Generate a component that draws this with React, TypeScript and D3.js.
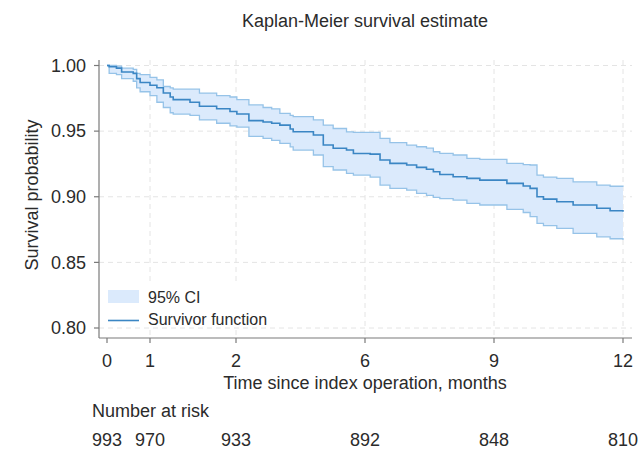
import React from 'react';
import * as d3 from 'd3';

// Kaplan-Meier step estimate (time in months)
const times = [0, 0.05, 0.22, 0.34, 0.61, 0.69, 0.77, 1.0, 1.16, 1.31, 1.47, 1.54, 1.93, 2.15, 2.55, 2.86,
  3.02, 3.3, 3.63, 3.83, 4.02, 4.26, 4.33, 4.8, 5.03, 5.26, 5.57, 5.73, 6.12, 6.35, 6.58, 6.97, 7.2,
  7.43, 7.59, 7.74, 8.05, 8.37, 8.67, 9.3, 9.68, 9.84, 10.0, 10.15, 10.46, 10.84, 11.39, 11.7, 12.0];
const survival = [1.0, 0.999, 0.998, 0.995, 0.994, 0.990, 0.987, 0.985, 0.983, 0.979, 0.976, 0.974, 0.972,
  0.969, 0.967, 0.965, 0.963, 0.958, 0.957, 0.956, 0.9546, 0.9516, 0.9495, 0.947, 0.9394, 0.9369, 0.9356,
  0.933, 0.9325, 0.928, 0.9254, 0.9242, 0.9224, 0.9209, 0.919, 0.917, 0.9152, 0.914, 0.9127, 0.9102,
  0.9082, 0.9064, 0.900, 0.8982, 0.8962, 0.8937, 0.8912, 0.8893, 0.8886];
const upperCI = [1.0, 1.0, 0.9995, 0.998, 0.997, 0.994, 0.993, 0.991, 0.989, 0.984, 0.983, 0.982, 0.982,
  0.979, 0.977, 0.976, 0.974, 0.970, 0.968, 0.967, 0.9636, 0.962, 0.961, 0.9585, 0.9546, 0.952, 0.9495,
  0.949, 0.949, 0.9445, 0.9412, 0.9394, 0.9381, 0.937, 0.9343, 0.933, 0.9318, 0.9293, 0.9285, 0.9255,
  0.9245, 0.9242, 0.9165, 0.915, 0.914, 0.9114, 0.9089, 0.908, 0.9076];
const lowerCI = [1.0, 0.994, 0.993, 0.990, 0.988, 0.983, 0.980, 0.977, 0.972, 0.968, 0.964, 0.963, 0.962,
  0.9585, 0.956, 0.954, 0.953, 0.946, 0.9445, 0.943, 0.9407, 0.938, 0.9356, 0.9318, 0.9229, 0.9204, 0.9178,
  0.9165, 0.915, 0.9089, 0.9064, 0.9051, 0.9026, 0.901, 0.8995, 0.8985, 0.8975, 0.895, 0.8937, 0.8904,
  0.888, 0.8848, 0.8797, 0.878, 0.8759, 0.8721, 0.8695, 0.868, 0.867];

const yTicks = [0.8, 0.85, 0.9, 0.95, 1.0];
// axis positions in months, with the labels Stata printed under them
const xTickValues = [0, 1, 3, 6, 9, 12];
const xTickLabels = ['0', '1', '2', '6', '9', '12'];
const atRisk = [993, 970, 933, 892, 848, 810];

const FONT = '"Liberation Sans", Arial, Helvetica, sans-serif';
const LINE = '#3b86c4';
const BAND = '#dbeafc';
const BAND_EDGE = '#96c3e8';
const GRID = '#e4e4e4';
const AXIS = '#7a7a7a';
const TEXT = '#2b2b2b';

export default function App() {
  const width = 643;
  const height = 452;

  const x = d3.scaleLinear().domain([0, 12]).range([107, 623]);
  const y = d3.scaleLinear().domain([0.8, 1.0]).range([328, 65.5]);

  const axisLeft = 99;
  const axisBottom = 338;
  const plotTop = 60;
  const plotRight = 632;

  const rows = times.map((t, i) => ({ t, s: survival[i], lo: lowerCI[i], hi: upperCI[i] }));

  const band = d3.area<any>()
    .curve(d3.curveStepAfter)
    .x(d => x(d.t))
    .y0(d => y(d.lo))
    .y1(d => y(d.hi));
  const edge = (key: 'lo' | 'hi' | 's') => d3.line<any>()
    .curve(d3.curveStepAfter)
    .x(d => x(d.t))
    .y(d => y(d[key]));

  return (
    <svg width={width} height={height} style={{ position: 'absolute', left: 0, top: 0, background: '#fff' }}
      fontFamily={FONT}>
      <text x={365} y={27} textAnchor="middle" fontSize={18} fill={TEXT}>Kaplan-Meier survival estimate</text>

      {/* grid */}
      {yTicks.map(v => (
        <line key={'gy' + v} x1={axisLeft} x2={plotRight} y1={y(v)} y2={y(v)}
          stroke={GRID} strokeDasharray="5 4" />
      ))}
      {xTickValues.filter(v => v > 0).map(v => (
        <line key={'gx' + v} x1={x(v)} x2={x(v)} y1={plotTop} y2={axisBottom}
          stroke={GRID} strokeDasharray="5 4" />
      ))}

      {/* confidence band and survivor function */}
      <path d={band(rows) || ''} fill={BAND} stroke="none" />
      <path d={edge('hi')(rows) || ''} fill="none" stroke={BAND_EDGE} strokeWidth={1.3} />
      <path d={edge('lo')(rows) || ''} fill="none" stroke={BAND_EDGE} strokeWidth={1.3} />
      <path d={edge('s')(rows) || ''} fill="none" stroke={LINE} strokeWidth={1.6} />

      {/* axes */}
      <line x1={axisLeft} x2={axisLeft} y1={plotTop} y2={axisBottom} stroke={AXIS} strokeWidth={1.2} />
      <line x1={axisLeft} x2={plotRight} y1={axisBottom} y2={axisBottom} stroke={AXIS} strokeWidth={1.2} />
      {yTicks.map(v => (
        <g key={'ty' + v}>
          <line x1={axisLeft - 5} x2={axisLeft} y1={y(v)} y2={y(v)} stroke={AXIS} strokeWidth={1.2} />
          <text x={86} y={y(v)} dy="0.35em" textAnchor="end" fontSize={18} fill={TEXT}>{d3.format('.2f')(v)}</text>
        </g>
      ))}
      {xTickValues.map((v, i) => (
        <g key={'tx' + v}>
          <line x1={x(v)} x2={x(v)} y1={axisBottom} y2={axisBottom + 5} stroke={AXIS} strokeWidth={1.2} />
          <text x={x(v)} y={367} textAnchor="middle" fontSize={18} fill={TEXT}>{xTickLabels[i]}</text>
        </g>
      ))}
      <text transform={`translate(38,195) rotate(-90)`} textAnchor="middle" fontSize={18} fill={TEXT}>
        Survival probability
      </text>
      <text x={365} y={389} textAnchor="middle" fontSize={18} fill={TEXT}>Time since index operation, months</text>

      {/* legend */}
      <rect x={103} y={284} width={170} height={43} fill="#fff" />
      <rect x={108} y={290} width={31} height={13} fill={BAND} />
      <line x1={108} x2={139} y1={320.5} y2={320.5} stroke={LINE} strokeWidth={1.6} />
      <text x={148} y={303} fontSize={16} fill={TEXT}>95% CI</text>
      <text x={148} y={325} fontSize={16} fill={TEXT}>Survivor function</text>

      {/* number at risk */}
      <text x={92} y={417} fontSize={18} fill={TEXT}>Number at risk</text>
      {atRisk.map((n, i) => (
        <text key={'r' + i} x={x(xTickValues[i])} y={446} textAnchor="middle" fontSize={18} fill={TEXT}>{n}</text>
      ))}
    </svg>
  );
}
